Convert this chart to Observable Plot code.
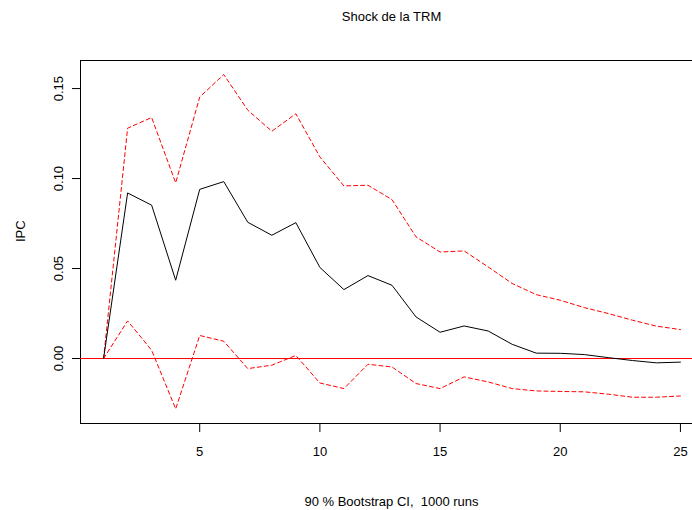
<!DOCTYPE html>
<html><head><meta charset="utf-8">
<script src="https://cdn.jsdelivr.net/npm/d3@7"></script>
<script src="https://cdn.jsdelivr.net/npm/@observablehq/plot@0.6"></script>
<style>
html,body{margin:0;padding:0;background:#fff;overflow:hidden;}
#wrap{position:relative;width:692px;height:510px;overflow:hidden;font-family:"Liberation Sans",Arial,sans-serif;}
.t{position:absolute;left:80px;width:623px;text-align:center;font-size:13px;color:#000;line-height:16px;white-space:pre;}
#title{top:9px;}
#caption{top:494px;}
#chart{position:absolute;top:40px;left:0;}
#chart svg{overflow:hidden;}
</style></head>
<body><div id="wrap"><div id="title" class="t"></div><div id="chart"></div><div id="caption" class="t"></div></div>
<script>
const titleText = "Shock de la TRM";
const captionText = "90 % Bootstrap CI,  1000 runs";
const yLabel = "IPC";
const horizon = [1,2,3,4,5,6,7,8,9,10,11,12,13,14,15,16,17,18,19,20,21,22,23,24,25];
const irf   = [0, 0.092, 0.0852, 0.0435, 0.094, 0.0983, 0.0757, 0.0685, 0.0755, 0.0506, 0.0383, 0.0461, 0.0407, 0.0231, 0.0146, 0.0181, 0.0153, 0.0079, 0.003, 0.0029, 0.0022, 0.0005, -0.0011, -0.0024, -0.002];
const upper = [0, 0.128, 0.1339, 0.0976, 0.1453, 0.1578, 0.138, 0.1263, 0.136, 0.112, 0.0959, 0.0963, 0.0883, 0.0676, 0.0592, 0.0598, 0.0509, 0.0417, 0.0355, 0.0324, 0.0283, 0.025, 0.0213, 0.018, 0.0161];
const lower = [0, 0.0209, 0.0046, -0.028, 0.0128, 0.0096, -0.0056, -0.0037, 0.0017, -0.0136, -0.0167, -0.0032, -0.0047, -0.0139, -0.0167, -0.0102, -0.013, -0.0167, -0.018, -0.0183, -0.0185, -0.0198, -0.0215, -0.0215, -0.0208];
const xTicks = [5, 10, 15, 20, 25];
const yTicks = [0, 0.05, 0.10, 0.15];

document.getElementById("title").textContent = titleText;
document.getElementById("caption").textContent = captionText;

const rows = horizon.map((h, i) => ({h, irf: irf[i], upper: upper[i], lower: lower[i]}));
const red = "#ff0000";
const plot = Plot.plot({
  width: 692, height: 430,
  marginLeft: 80, marginRight: -11, marginTop: 20, marginBottom: 47,
  style: {fontFamily: '"Liberation Sans", Arial, sans-serif', fontSize: "13px", color: "#000", background: "#fff"},
  x: {domain: [0.04, 25.96], label: null, ticks: xTicks, tickSize: 9, tickPadding: 14, tickFormat: d => String(d)},
  y: {domain: [-0.0361, 0.1656], label: null, ticks: yTicks, tickFormat: d3.format(".2f"), tickSize: 8, tickRotate: -90, tickPadding: 10},
  marks: [
    Plot.frame({stroke: "#000"}),
    Plot.ruleY([0], {stroke: red, strokeWidth: 1}),
    Plot.line(rows, {x: "h", y: "upper", stroke: red, strokeWidth: 1, strokeDasharray: "4,3"}),
    Plot.line(rows, {x: "h", y: "lower", stroke: red, strokeWidth: 1, strokeDasharray: "4,3"}),
    Plot.line(rows, {x: "h", y: "irf", stroke: "#000", strokeWidth: 1}),
    Plot.text([yLabel], {text: d => d, frameAnchor: "left", rotate: -90, dx: -60, fontSize: 13, fill: "#000"})
  ]
});
document.getElementById("chart").appendChild(plot);
</script>
</body></html>
